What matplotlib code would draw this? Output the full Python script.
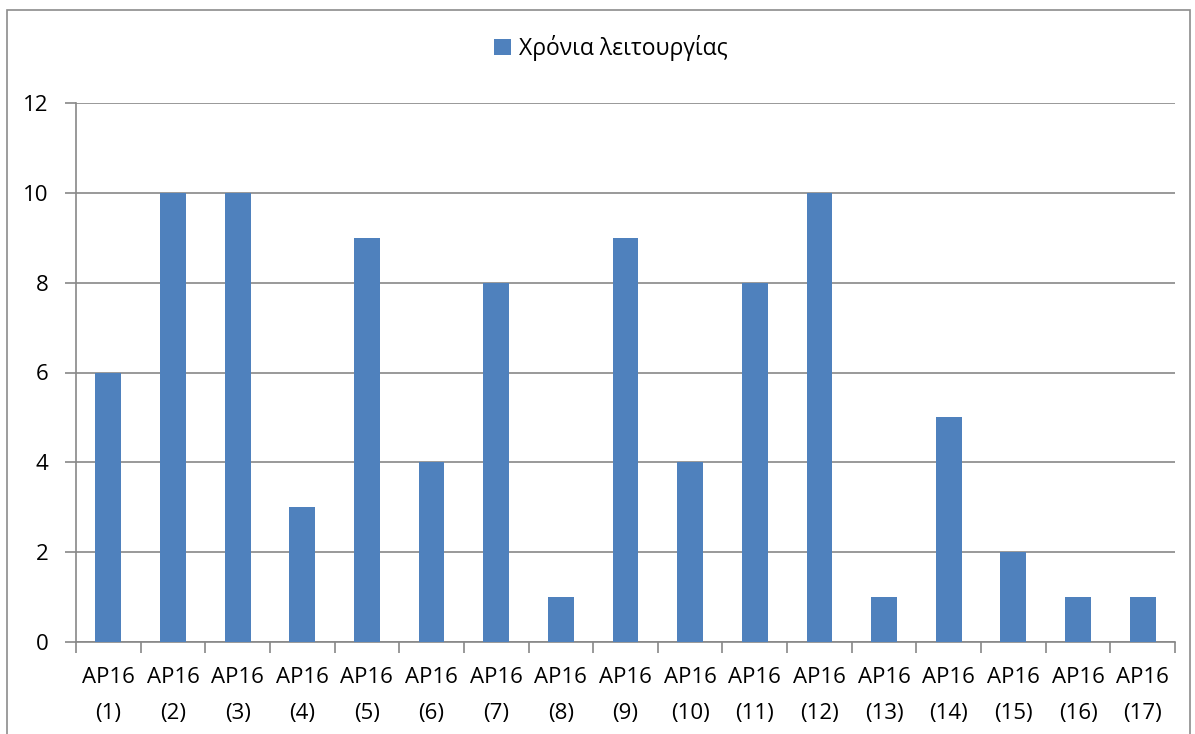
import numpy as np
import matplotlib.pyplot as plt
from matplotlib.patches import Rectangle

plt.rcParams['font.family'] = ['Open Sans', 'DejaVu Sans']

# years in operation per unit
units = ['AP16\n(%d)' % i for i in range(1, 18)]
years = [6, 10, 10, 3, 9, 4, 8, 1, 9, 4, 8, 10, 1, 5, 2, 1, 1]
yticks = [0, 2, 4, 6, 8, 10, 12]

bar_color = '#4f81bd'
grid_color = '#878787'

fig = plt.figure(figsize=(11.95, 7.34), dpi=100)
# outer chart frame
fig.patches.append(Rectangle((7 / 1195, -0.01), 1183 / 1195, 1 - 10 / 734 + 0.01,
                             transform=fig.transFigure, fill=False,
                             edgecolor='#8c8c8c', linewidth=1.2))

ax = fig.add_axes([76 / 1195, 1 - 642 / 734, 1099 / 1195, 539 / 734])
x = np.arange(len(units))
ax.bar(x, years, width=0.4, color=bar_color, zorder=3, label='Χρόνια λειτουργίας')

ax.set_xlim(-0.5, len(units) - 0.5)
ax.set_ylim(0, 12)
ax.set_yticks(yticks)
ax.yaxis.grid(True, color=grid_color, linewidth=1.2, zorder=0)
ax.tick_params(axis='y', length=8, width=1.2, color=grid_color, labelsize=16, pad=12)

# category labels centred, ticks on boundaries
ax.set_xticks(x)
ax.set_xticklabels(units, fontsize=16, linespacing=1.95)
ax.tick_params(axis='x', which='major', length=0, pad=18)
ax.set_xticks(np.arange(-0.5, len(units)), minor=True)
ax.tick_params(axis='x', which='minor', length=8, width=1.2, color=grid_color)

for side in ['top', 'right']:
    ax.spines[side].set_visible(False)
for side in ['left', 'bottom']:
    ax.spines[side].set_color(grid_color)
    ax.spines[side].set_linewidth(1.2)

fig.legend(loc='center', bbox_to_anchor=(611 / 1195, 1 - 48 / 734), frameon=False,
           fontsize=16.5, handlelength=0.75, handleheight=0.75, handletextpad=0.35)

fig.savefig('out.png', dpi=100)
